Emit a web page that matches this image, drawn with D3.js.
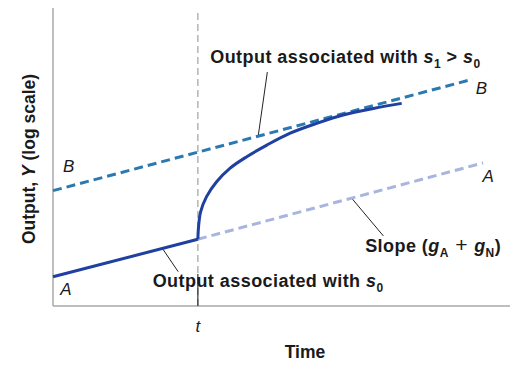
<!DOCTYPE html>
<html><head><meta charset="utf-8">
<script src="https://cdn.jsdelivr.net/npm/d3@7"></script>
<style>body{margin:0;background:#fff}svg{display:block}text{font-family:"Liberation Sans",Arial,sans-serif;fill:#1a1a1a}</style>
</head><body><svg id="c" width="529" height="367"></svg>
<script>
// time t at which the saving rate rises
const tValue = 31.7;
// original path A (solid before t, dashed after)
const pathA_before = [{x:0,y:9.8},{x:31.7,y:22.4}];
const pathA_after = [{x:31.7,y:22.4},{x:94.1,y:48.0}];
// new balanced growth path B
const pathB = [{x:0,y:38.7},{x:91.8,y:76.1}];
// actual output after the rise in saving rate
const transition = [
  {x:31.7,y:22.4},{x:31.85,y:26.6},{x:32.3,y:31.6},{x:33.6,y:36.7},{x:35.8,y:41.7},
  {x:38.7,y:46.2},{x:42.4,y:50.1},{x:46.8,y:54.0},{x:51.9,y:58.0},{x:57.7,y:61.3},
  {x:63.5,y:64.1},{x:70.1,y:66.3},{x:76.3,y:68.0}
];
// leader lines for annotations (data coords)
const leaders = [
  [{x:46.9,y:78.5},{x:44.9,y:57.0}],
  [{x:23.9,y:19.4},{x:27.4,y:11.5}],
  [{x:65.4,y:36.1},{x:72.3,y:23.5}]
];
const pathLabels = [
  {t:"B",x:2.2,y:45.0},{t:"B",x:92.5,y:71.3},
  {t:"A",x:1.6,y:3.7},{t:"A",x:94.0,y:41.7}
];

const svg = d3.select("#c");
const x = d3.scaleLinear().domain([0,100]).range([53,510]);
const y = d3.scaleLinear().domain([0,100]).range([306,8]);
const line = d3.line().x(d=>x(d.x)).y(d=>y(d.y));

// axes
svg.append("line").attr("x1",x(0)).attr("x2",x(0)).attr("y1",y(100)).attr("y2",y(0))
  .attr("stroke","#a8a8a8").attr("stroke-width",1.5);
svg.append("line").attr("x1",x(0)).attr("x2",x(100)).attr("y1",y(0)).attr("y2",y(0))
  .attr("stroke","#a8a8a8").attr("stroke-width",1.5);

// vertical line at t
svg.append("line").attr("x1",x(tValue)).attr("x2",x(tValue)).attr("y1",y(98.3)).attr("y2",y(0))
  .attr("stroke","#a8a8a8").attr("stroke-width",1.3).attr("stroke-dasharray","7,4");
svg.append("line").attr("x1",x(tValue)).attr("x2",x(tValue)).attr("y1",y(10.7)).attr("y2",y(0))
  .attr("stroke","#222").attr("stroke-width",1.1);

// leaders
leaders.forEach(l=>svg.append("path").attr("d",line(l)).attr("stroke","#222").attr("stroke-width",1).attr("fill","none"));

// paths
svg.append("path").attr("d",line(pathA_after)).attr("fill","none").attr("stroke","#a9b4df")
  .attr("stroke-width",3).attr("stroke-dasharray","9,5");
svg.append("path").attr("d",line(pathB)).attr("fill","none").attr("stroke","#2b79b1")
  .attr("stroke-width",3).attr("stroke-dasharray","9,5");
svg.append("path").attr("d",line(pathA_before)).attr("fill","none").attr("stroke","#1f3fa1")
  .attr("stroke-width",3);
svg.append("path").attr("d",d3.line().x(d=>x(d.x)).y(d=>y(d.y)).curve(d3.curveCatmullRom)(transition))
  .attr("fill","none").attr("stroke","#1f3fa1").attr("stroke-width",3);

// path labels
pathLabels.forEach(p=>svg.append("text").attr("x",x(p.x)).attr("y",y(p.y))
  .attr("font-size",17).attr("font-style","italic").text(p.t));

// annotation texts
function sub(t,main,subtxt){
  t.append("tspan").attr("font-style","italic").text(main);
  t.append("tspan").attr("font-size",12).attr("dy",5).text(subtxt);
}
function ann(px,py){
  return svg.append("text").attr("x",x(px)).attr("y",y(py)).attr("font-size",18)
    .attr("font-weight","bold").attr("letter-spacing",0.45);
}
let t1 = ann(34.4,81.4);
t1.append("tspan").text("Output associated with ");
sub(t1,"s","1");
t1.append("tspan").attr("dy",-5).text(" > ");
sub(t1,"s","0");

let t2 = ann(21.8,6.3);
t2.append("tspan").text("Output associated with ");
sub(t2,"s","0");

let t3 = ann(68.3,18.0);
t3.append("tspan").text("Slope (");
sub(t3,"g","A");
t3.append("tspan").attr("dy",-5).attr("font-weight","normal").attr("font-size",21).text(" + ");
sub(t3,"g","N");
t3.append("tspan").attr("dy",-5).text(")");

// axis labels
svg.append("text").attr("x",x(tValue)).attr("y",332).attr("text-anchor","middle")
  .attr("font-size",17).attr("font-style","italic").text("t");
svg.append("text").attr("x",305).attr("y",358).attr("text-anchor","middle")
  .attr("font-size",17.5).attr("font-weight","bold").text("Time");
let yl = svg.append("text").attr("transform","translate(35,159) rotate(-90)").attr("text-anchor","middle")
  .attr("font-size",17.5).attr("font-weight","bold");
yl.append("tspan").text("Output, ");
yl.append("tspan").attr("font-style","italic").text("Y");
yl.append("tspan").text(" (log scale)");
</script></body></html>
